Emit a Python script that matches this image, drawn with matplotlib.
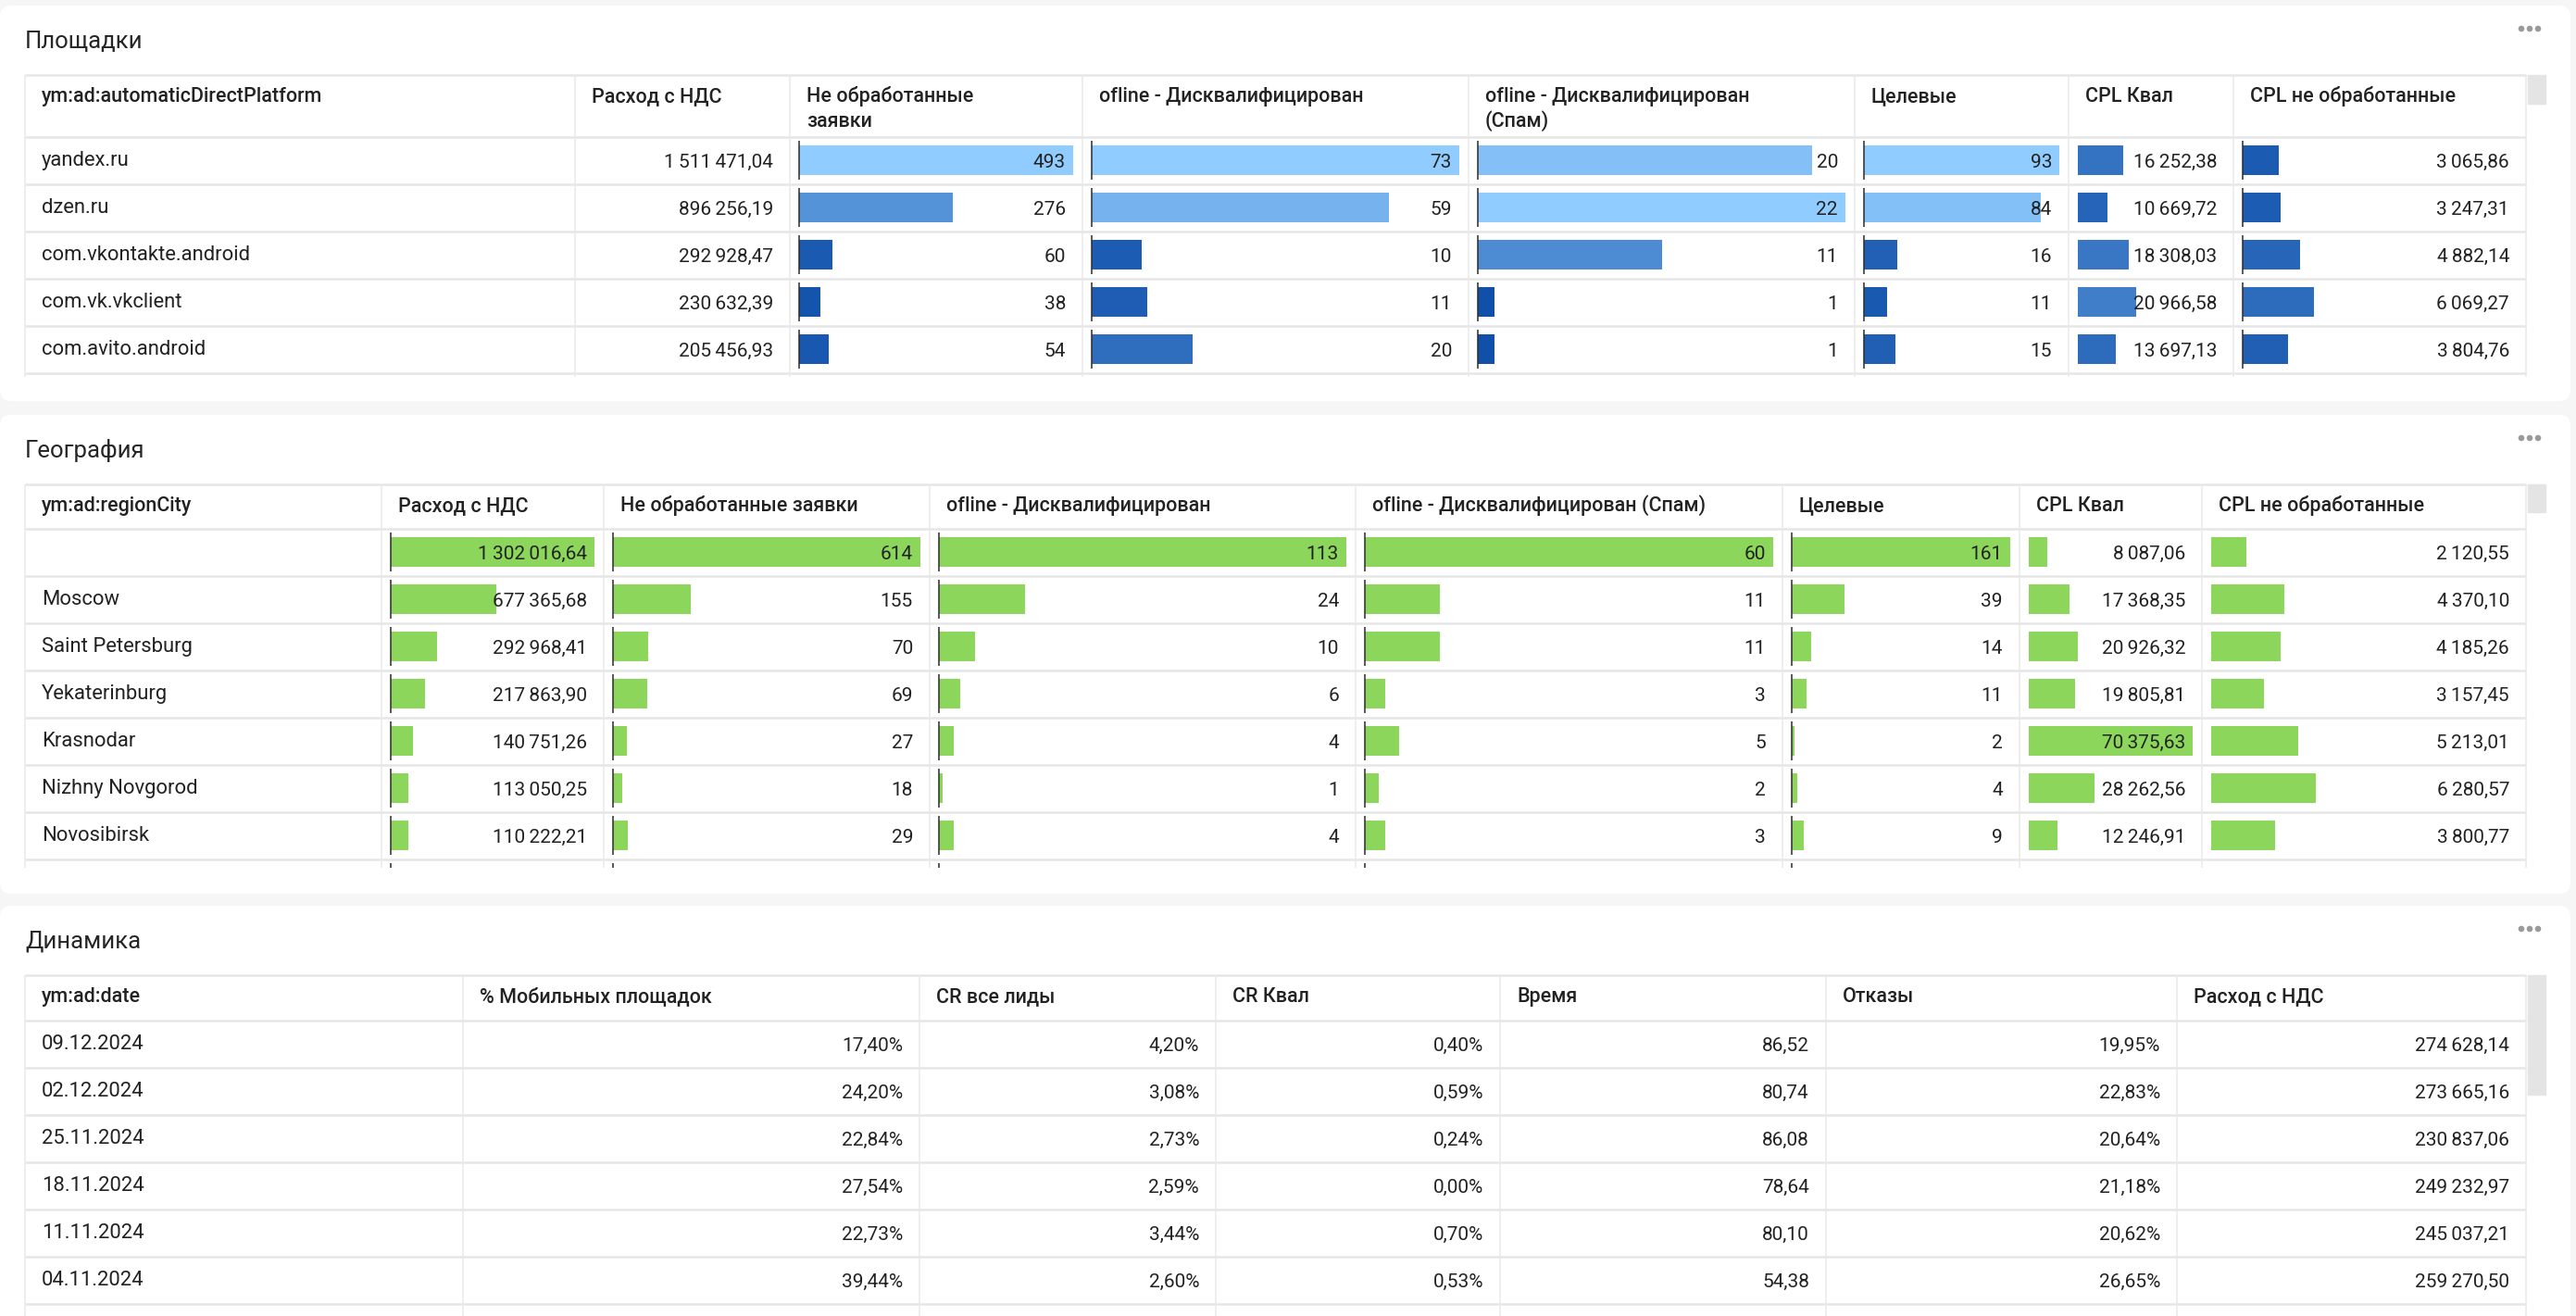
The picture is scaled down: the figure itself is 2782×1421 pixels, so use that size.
import numpy as np
import matplotlib.pyplot as plt
from matplotlib.patches import FancyBboxPatch, Rectangle, Circle
from matplotlib.colors import LinearSegmentedColormap

plt.rcParams['font.family'] = ['Roboto', 'DejaVu Sans']

# ---- Площадки ----
platform_headers = ['ym:ad:automaticDirectPlatform', 'Расход с НДС', 'Не обработанные\nзаявки',
                    'ofline - Дисквалифицирован', 'ofline - Дисквалифицирован\n(Спам)',
                    'Целевые', 'CPL Квал', 'CPL не обработанные']
platforms = ['yandex.ru', 'dzen.ru', 'com.vkontakte.android', 'com.vk.vkclient', 'com.avito.android']
plat_spend = [1511471.04, 896256.19, 292928.47, 230632.39, 205456.93]
plat_not_proc = [493, 276, 60, 38, 54]
plat_offline = [73, 59, 10, 11, 20]
plat_spam = [20, 22, 11, 1, 1]
plat_target = [93, 84, 16, 11, 15]
plat_cpl_qual = [16252.38, 10669.72, 18308.03, 20966.58, 13697.13]
plat_cpl_np = [3065.86, 3247.31, 4882.14, 6069.27, 3804.76]
# bar scale maxima of rows scrolled out of view (estimated)
plat_hidden_max = {6: 52600, 7: 23200}

# ---- География ----
geo_headers = ['ym:ad:regionCity', 'Расход с НДС', 'Не обработанные заявки',
               'ofline - Дисквалифицирован', 'ofline - Дисквалифицирован (Спам)',
               'Целевые', 'CPL Квал', 'CPL не обработанные']
cities = ['', 'Moscow', 'Saint Petersburg', 'Yekaterinburg', 'Krasnodar', 'Nizhny Novgorod', 'Novosibirsk']
geo_spend = [1302016.64, 677365.68, 292968.41, 217863.90, 140751.26, 113050.25, 110222.21]
geo_not_proc = [614, 155, 70, 69, 27, 18, 29]
geo_offline = [113, 24, 10, 6, 4, 1, 4]
geo_spam = [60, 11, 11, 3, 5, 2, 3]
geo_target = [161, 39, 14, 11, 2, 4, 9]
geo_cpl_qual = [8087.06, 17368.35, 20926.32, 19805.81, 70375.63, 28262.56, 12246.91]
geo_cpl_np = [2120.55, 4370.10, 4185.26, 3157.45, 5213.01, 6280.57, 3800.77]
geo_hidden_max = {7: 18300}

# ---- Динамика ----
dyn_headers = ['ym:ad:date', '% Мобильных площадок', 'CR все лиды', 'CR Квал', 'Время', 'Отказы', 'Расход с НДС']
dates = ['09.12.2024', '02.12.2024', '25.11.2024', '18.11.2024', '11.11.2024', '04.11.2024']
mobile_share = [17.40, 24.20, 22.84, 27.54, 22.73, 39.44]
cr_all = [4.20, 3.08, 2.73, 2.59, 3.44, 2.60]
cr_qual = [0.40, 0.59, 0.24, 0.00, 0.70, 0.53]
visit_time = [86.52, 80.74, 86.08, 78.64, 80.10, 54.38]
bounce = [19.95, 22.83, 20.64, 21.18, 20.62, 26.65]
dyn_spend = [274628.14, 273665.16, 230837.06, 249232.97, 245037.21, 259270.50]

W, H = 2782, 1421
ROW_H = 51
TEXT = '#222222'
GRID = '#e6e6e6'
GREEN = '#8bd65b'
blues = LinearSegmentedColormap.from_list('blues', ['#0a4aa6', '#90ccff'])


def money(v):
    return f'{v:,.2f}'.replace(',', '\u2009').replace('.', ',')


def count(v):
    return f'{v:,.0f}'.replace(',', '\u2009')


def pct(v):
    return money(v) + '%'


fig = plt.figure(figsize=(W / 100, H / 100), dpi=100, facecolor='#f6f6f6')
base = fig.add_axes([0, 0, 1, 1], zorder=0)
base.set_xlim(0, W)
base.set_ylim(H, 0)
base.axis('off')
top = fig.add_axes([0, 0, 1, 1], zorder=5)
top.set_xlim(0, W)
top.set_ylim(H, 0)
top.axis('off')
top.patch.set_alpha(0)


def px_axes(x0, y0, x1, y1):
    ax = fig.add_axes([x0 / W, 1 - y1 / H, (x1 - x0) / W, (y1 - y0) / H], zorder=2)
    ax.patch.set_alpha(0)
    ax.axis('off')
    return ax


def block(p_top, p_bot, title, head_top, head_bot, clip, thumb_bot, edges,
          headers, labels, cols, fmts, bars):
    base.add_patch(FancyBboxPatch((0, p_top), 2776, p_bot - p_top,
                                  boxstyle='round,pad=0,rounding_size=12', fc='white', ec='none'))
    top.text(27, p_top + 46, title, fontsize=18.5, color='#262626', va='baseline')
    for k in range(3):
        base.add_patch(Circle((2723 + 9 * k, p_top + 25), 2.6, color='#9a9a9a'))
    base.add_patch(Rectangle((2730, head_top), 19, thumb_bot - head_top, color='#e4e4e4'))

    n = len(labels)
    for y in [head_top, head_bot] + [head_bot + ROW_H * (i + 1) for i in range(n)]:
        base.plot([edges[0], edges[-1]], [y, y], color=GRID, lw=1.8, solid_capstyle='butt')
    for x in edges:
        base.plot([x, x], [head_top, clip], color='#e9e9e9', lw=1.1, solid_capstyle='butt')

    for j, h in enumerate(headers):
        for k, line in enumerate(h.split('\n')):
            top.text(edges[j] + 18, head_top + 29 + 27 * k, line, fontsize=15.5,
                     fontweight='medium', color=TEXT, va='baseline')
    for i, lab in enumerate(labels):
        top.text(edges[0] + 18, head_bot + ROW_H * i + 31, lab, fontsize=15.8,
                 color=TEXT, va='baseline')

    for j, (vals, f) in enumerate(zip(cols, fmts), start=1):
        for i, v in enumerate(vals):
            top.text(edges[j + 1] - 18, head_bot + ROW_H * i + 33, f(v), fontsize=15,
                     color=TEXT, ha='right', va='baseline')
        if j not in bars:
            continue
        smax, colfn, axis_line = bars[j]
        x0, x1 = edges[j] + 8, edges[j + 1] - 10
        ax = px_axes(x0, head_bot, x1, clip)
        ax.set_xlim(-smax * 2 / (x1 - x0 - 2), smax)
        ax.set_ylim((clip - head_bot) / ROW_H, 0)
        pos = np.arange(n) + 0.49
        ax.barh(pos, vals, height=32 / ROW_H, color=[colfn(v / smax) for v in vals])
        if axis_line:
            r = np.arange(n + 1)
            ax.vlines(np.zeros(n + 1), r + 4 / ROW_H, r + 46 / ROW_H, color='#2b2b2b', lw=1.1, zorder=3)


# Площадки
p_cols = [plat_spend, plat_not_proc, plat_offline, plat_spam, plat_target, plat_cpl_qual, plat_cpl_np]
p_bars = {}
for j in range(2, 8):
    smax = plat_hidden_max.get(j, max(p_cols[j - 1]))
    p_bars[j] = (smax, blues, j != 6)
block(6, 433, 'Площадки', 81, 148, 407, 112,
      [27, 621, 853, 1169, 1586, 2003, 2234, 2412, 2728],
      platform_headers, platforms, p_cols,
      [money, count, count, count, count, money, money], p_bars)

# География
g_cols = [geo_spend, geo_not_proc, geo_offline, geo_spam, geo_target, geo_cpl_qual, geo_cpl_np]
g_bars = {}
for j in range(1, 8):
    smax = geo_hidden_max.get(j, max(g_cols[j - 1]))
    g_bars[j] = (smax, lambda t: GREEN, j <= 5)
block(448, 965, 'География', 523, 571, 937, 553,
      [27, 412, 652, 1004, 1464, 1925, 2181, 2378, 2728],
      geo_headers, cities, g_cols,
      [money, count, count, count, count, money, money], g_bars)

# Динамика
d_cols = [mobile_share, cr_all, cr_qual, visit_time, bounce, dyn_spend]
block(978, 1460, 'Динамика', 1053, 1102, H, 1182,
      [27, 500, 993, 1313, 1620, 1972, 2351, 2728],
      dyn_headers, dates, d_cols,
      [pct, pct, pct, money, pct, money], {})

fig.savefig('out.png', dpi=100, facecolor=fig.get_facecolor())
